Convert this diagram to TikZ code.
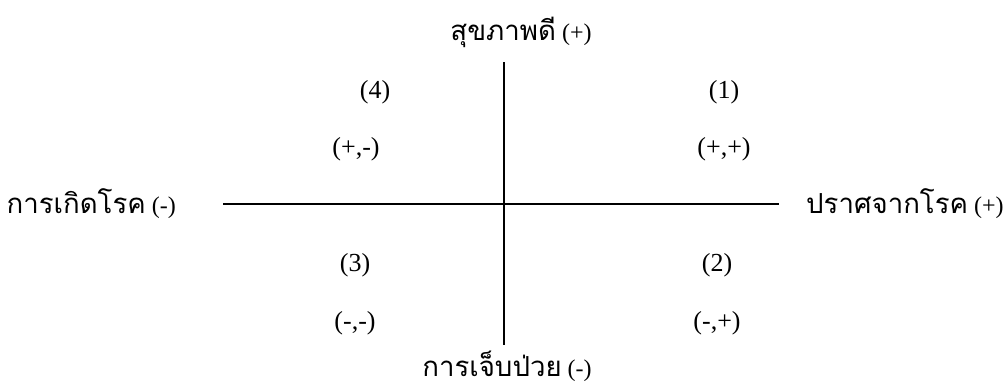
\documentclass[tikz,border=0pt]{standalone}
\usepackage{fontspec}
\setmainfont{Liberation Serif}
\newfontfamily\thaifont[Script=Thai,Scale=1.15]{Loma}
\usetikzlibrary{positioning}

\begin{document}
\begin{tikzpicture}[
  x=1pt, y=-1pt,
  axis/.style={line width=1.4pt},
  lbl/.style={inner sep=0pt, anchor=base, font=\fontsize{24}{28}\selectfont},
  quad/.style={inner sep=0pt, font=\fontsize{26}{30}\selectfont}
]
  \useasboundingbox (0,0) rectangle (1003,388);

  % axes
  \coordinate (top) at (504,62);
  \coordinate (bot) at (504,345);
  \coordinate (lft) at (223,204);
  \coordinate (rgt) at (779,204);
  \draw[axis] (top) -- (bot);
  \draw[axis] (lft) -- (rgt);

  % axis labels
  \node[lbl] (health) at (521,40) {{\thaifont สุขภาพดี} (+)};
  \node[lbl] (ill) at (507,376) {{\thaifont การเจ็บป่วย} (-)};
  \node[lbl, anchor=base east] (disease) at (176,213) {{\thaifont การเกิดโรค} (-)};
  \node[lbl, anchor=base west] (free) at (806,213) {{\thaifont ปราศจากโรค} (+)};

  % quadrants
  \node[quad, anchor=base] (q4) at (375,98) {(4)};
  \node[quad, below=34pt of q4, xshift=-19pt] (s4) {(+,-)};
  \node[quad, anchor=base] (q1) at (724,98) {(1)};
  \node[quad, below=34pt of q1] (s1) {(+,+)};
  \node[quad, anchor=base] (q3) at (355,271) {(3)};
  \node[quad, below=35pt of q3] (s3) {(-,-)};
  \node[quad, anchor=base] (q2) at (717,271) {(2)};
  \node[quad, below=35pt of q2] (s2) {(-,+)};
\end{tikzpicture}
\end{document}
